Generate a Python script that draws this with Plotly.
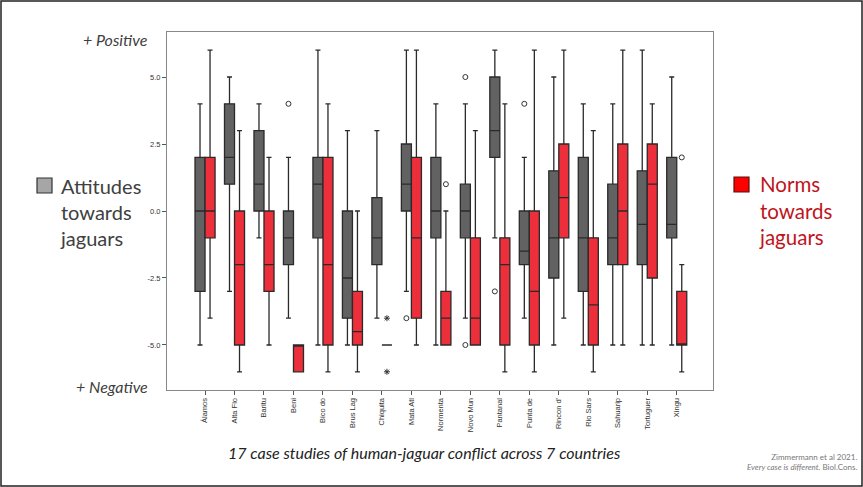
import plotly.graph_objects as go

cats = ["Álamos", "Alta Flo", "Baritu", "Beni", "Bico do", "Brus Lag", "Chiquita",
        "Mata Atl", "Normenta", "Novo Mun", "Pantanal", "Punta de", "Rincon d'",
        "Rio Sars", "Sahuarip", "Tortuguer", "Xingu"]

# Attitudes towards jaguars (grey)
att_low = [-5, -3, -1, -4, -5, -5, -4, -3, -5, -4, -1, -4, -5, -5, -5, -5, -5]
att_q1 = [-3, 1, 0, -2, -1, -4, -2, 0, -1, -1, 2, -2, -2.5, -3, -2, -2, -1]
att_med = [0, 2, 1, -1, 1, -2.5, -1, 1, 0, 0, 3, -1.5, -1, -1, -1, -0.5, -0.5]
att_q3 = [2, 4, 3, 0, 2, 0, 0.5, 2.5, 2, 1, 5, 0, 1.5, 2, 1, 1.5, 2]
att_high = [4, 5, 4, 2, 6, 3, 3, 6, 4, 4, 6, 2, 5, 4, 4, 6, 5]

# Norms towards jaguars (red)
norm_low = [-4, -6, -5, -6, -6, -6, -5, -5, -5, -5, -6, -6, -4, -6, -5, -5, -6]
norm_q1 = [-1, -5, -3, -6, -5, -5, -5, -4, -5, -5, -5, -5, -1, -5, -2, -2.5, -5]
norm_med = [0, -2, -2, -5, -2, -4.5, -5, -1, -4, -4, -2, -3, 0.5, -3.5, 0, 1, -5]
norm_q3 = [2, 0, 0, -5, 2, -3, -5, 2, -3, -1, -1, 0, 2.5, -1, 2.5, 2.5, -3]
norm_high = [6, 3, 2, -5, 4, 0, -5, 6, 0, 3, 4, 6, 6, 3, 6, 4, -2]

# outliers (circles) and extremes (stars)
att_out_idx = [3, 7, 9, 9, 10, 11]
att_out_val = [4, -4, 5, -5, -3, 4]
norm_out_idx = [8, 16]
norm_out_val = [1, 2]
norm_ext_idx = [6, 6]
norm_ext_val = [-4, -6]

yticks = [5.0, 2.5, 0.0, -2.5, -5.0]
yticktext = ["5.0", "2.5", "0.0", "-2.5", "-5.0"]

OFF = 0.17
BW = 0.34
GREY = "#626262"
RED = "#EC2F3A"
EDGE = "#2a2a2a"

n = len(cats)
xg = [i - OFF for i in range(n)]
xr = [i + OFF for i in range(n)]

fig = go.Figure()
fig.add_trace(go.Box(x=xg, q1=att_q1, median=att_med, q3=att_q3,
                     lowerfence=att_low, upperfence=att_high,
                     width=BW, whiskerwidth=0.5, fillcolor=GREY,
                     line=dict(color=EDGE, width=1.3), boxpoints=False,
                     showlegend=False, hoverinfo="skip"))
fig.add_trace(go.Box(x=xr, q1=norm_q1, median=norm_med, q3=norm_q3,
                     lowerfence=norm_low, upperfence=norm_high,
                     width=BW, whiskerwidth=0.5, fillcolor=RED,
                     line=dict(color=EDGE, width=1.3), boxpoints=False,
                     showlegend=False, hoverinfo="skip"))
fig.add_trace(go.Scatter(x=[i - OFF for i in att_out_idx], y=att_out_val, mode="markers",
                         marker=dict(symbol="circle-open", size=5, color="#333",
                                     line=dict(width=1)), showlegend=False))
fig.add_trace(go.Scatter(x=[i + OFF for i in norm_out_idx], y=norm_out_val, mode="markers",
                         marker=dict(symbol="circle-open", size=5, color="#333",
                                     line=dict(width=1)), showlegend=False))
fig.add_trace(go.Scatter(x=[i + OFF for i in norm_ext_idx], y=norm_ext_val, mode="markers",
                         marker=dict(symbol="asterisk-open", size=5, color="#333",
                                     line=dict(width=1)), showlegend=False))

axfont = dict(family="Arial, Liberation Sans", size=7.5, color="#333")
fig.update_layout(
    width=863, height=487,
    margin=dict(l=167, r=150, t=32, b=97),
    paper_bgcolor="white", plot_bgcolor="white",
    boxmode="overlay",
    font=dict(family="Lato, Open Sans, sans-serif", color="#404040"),
    xaxis=dict(range=[-1.29, 17.23], tickvals=list(range(n)), ticktext=cats,
               tickangle=-90, tickfont=axfont, ticks="outside", ticklen=4,
               tickcolor="#555", showgrid=False, zeroline=False,
               showline=True, mirror=True, linecolor="#888", linewidth=1),
    yaxis=dict(range=[-6.68, 6.68], tickvals=yticks, ticktext=yticktext,
               tickfont=axfont, ticks="outside", ticklen=4, tickcolor="#555",
               showgrid=False, zeroline=False,
               showline=True, mirror=True, linecolor="#888", linewidth=1),
)

def ann(text, x, y, size, color="#404040", xanchor="left", yanchor="middle", align="left"):
    fig.add_annotation(text=text, x=x, y=y, xref="paper", yref="paper",
                       xanchor=xanchor, yanchor=yanchor, align=align, showarrow=False,
                       font=dict(family="Lato, Open Sans, sans-serif", size=size, color=color))

PW, PH = 546.0, 358.0
def px(xp):
    return (xp - 167) / PW
def py(yp):
    return (390 - yp) / PH

ann("<i>+ Positive</i>", px(150), py(40), 16, xanchor="right")
ann("<i>+ Negative</i>", px(150), py(386), 16, xanchor="right")
ann("Attitudes<br>towards<br>jaguars", px(58), py(212), 20, color="#404040")
ann("Norms<br>towards<br>jaguars", px(757), py(210), 20.5, color="#C0141C")
ann("<i>17 case studies of human-jaguar conflict across 7 countries</i>", px(424), py(452), 16,
    color="#222", xanchor="center")
ann("Zimmermann et al 2021.<br><i>Every case is different.</i> Biol.Cons.", px(859), py(462), 8,
    color="#777", xanchor="right", align="right")

# legend swatches
fig.add_shape(type="rect", xref="paper", yref="paper", x0=px(37), x1=px(52), y0=py(193), y1=py(178),
              fillcolor="#A6A6A6", line=dict(color="#333", width=1.2))
fig.add_shape(type="rect", xref="paper", yref="paper", x0=px(734), x1=px(749), y0=py(192), y1=py(177),
              fillcolor="#FF0000", line=dict(color="#5a1010", width=1.2))
# slide border
fig.add_shape(type="rect", xref="paper", yref="paper", x0=px(1), x1=px(862), y0=py(486), y1=py(1),
              line=dict(color="#222", width=1.5))

fig.write_html("out.html", config={"displayModeBar": False},
               post_script="document.body.style.margin='0';document.body.style.overflow='hidden';")
